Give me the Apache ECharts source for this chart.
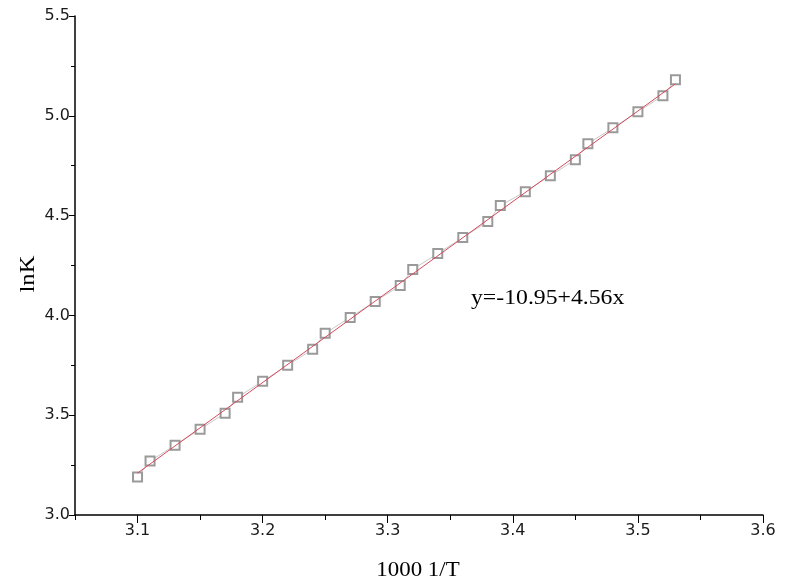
<!DOCTYPE html>
<html>
<head>
<meta charset="utf-8">
<script src="https://cdn.jsdelivr.net/npm/echarts@6/dist/echarts.min.js"></script>
<style>
html,body{margin:0;padding:0;background:#fff;}
#c{width:811px;height:582px;}
</style>
</head>
<body>
<div id="c"></div>
<script>
// Data
const xValues = [3.10,3.11,3.13,3.15,3.17,3.18,3.20,3.22,3.24,3.25,3.27,3.29,3.31,3.32,3.34,3.36,3.38,3.39,3.41,3.43,3.45,3.46,3.48,3.50,3.52,3.53];
const lnKValues = [3.19,3.27,3.35,3.43,3.51,3.59,3.67,3.75,3.83,3.91,3.99,4.07,4.15,4.23,4.31,4.39,4.47,4.55,4.62,4.70,4.78,4.86,4.94,5.02,5.10,5.18];
const fitX = [3.10, 3.53];
const fitY = [3.21, 5.16];
const xTickLabels = [3.1, 3.2, 3.3, 3.4, 3.5, 3.6];
const xMinorTicks = [3.05, 3.15, 3.25, 3.35, 3.45, 3.55];
const yTickLabels = [3.0, 3.5, 4.0, 4.5, 5.0, 5.5];
const xName = '1000 1/T';
const yName = 'lnK';
const equationText = 'y=-10.95+4.56x';

const chart = echarts.init(document.getElementById('c'), null, {renderer: 'canvas'});
const tickFont = {fontFamily: 'DejaVu Sans, sans-serif', fontSize: 16, color: '#1a1a1a'};
const serif = 'Liberation Serif, Times New Roman, serif';
const option = {
  animation: false,
  backgroundColor: '#ffffff',
  grid: {left: 75, right: 48, top: 16, bottom: 67, containLabel: false},
  xAxis: [{
    type: 'value', min: 3.05, max: 3.6,
    axisLine: {show: true, onZero: false, lineStyle: {color: '#000', width: 1.5}},
    axisTick: {show: true, inside: false, length: 8, customValues: xTickLabels, lineStyle: {color: '#000', width: 1}},
    axisLabel: Object.assign({margin: 8, customValues: xTickLabels, formatter: v => Number(v).toFixed(1)}, tickFont),
    splitLine: {show: false}
  }, {
    type: 'value', min: 3.05, max: 3.6, position: 'bottom',
    axisLine: {show: false},
    axisTick: {show: true, inside: false, length: 5, customValues: xMinorTicks, lineStyle: {color: '#000', width: 1}},
    axisLabel: {show: false},
    splitLine: {show: false}
  }],
  yAxis: {
    type: 'value', min: 3.0, max: 5.5, interval: 0.5,
    axisLine: {show: true, onZero: false, lineStyle: {color: '#000', width: 1.5}},
    axisTick: {show: true, inside: false, length: 6, lineStyle: {color: '#000', width: 1}},
    minorTick: {show: true, splitNumber: 2, length: 4, lineStyle: {color: '#000', width: 1}},
    axisLabel: Object.assign({margin: 5, customValues: yTickLabels, formatter: v => Number(v).toFixed(1)}, tickFont),
    splitLine: {show: false}
  },
  series: [{
    type: 'line',
    xAxisIndex: 0,
    data: xValues.map((x, i) => [x, lnKValues[i]]),
    symbol: 'emptyRect', symbolSize: 9, showSymbol: true,
    itemStyle: {color: '#9a9a9a', borderWidth: 1},
    lineStyle: {color: '#c8c8c8', width: 1},
    z: 2
  }, {
    type: 'line',
    xAxisIndex: 0,
    data: fitX.map((x, i) => [x, fitY[i]]),
    symbol: 'none',
    lineStyle: {color: '#d44a5a', width: 1},
    z: 3
  }],
  graphic: [{
    type: 'text', x: 471, y: 298, scaleX: 1.13,
    style: {text: equationText, font: '21px ' + serif, fill: '#000', verticalAlign: 'middle', align: 'left'}
  }, {
    type: 'text', x: 418, y: 570, scaleX: 1.09,
    style: {text: xName, font: '21px ' + serif, fill: '#000', verticalAlign: 'middle', align: 'center'}
  }, {
    type: 'text', x: 28, y: 274, rotation: Math.PI / 2, scaleX: 1.12,
    style: {text: yName, font: '22px ' + serif, fill: '#000', verticalAlign: 'middle', align: 'center'}
  }]
};
chart.setOption(option);
</script>
</body>
</html>
